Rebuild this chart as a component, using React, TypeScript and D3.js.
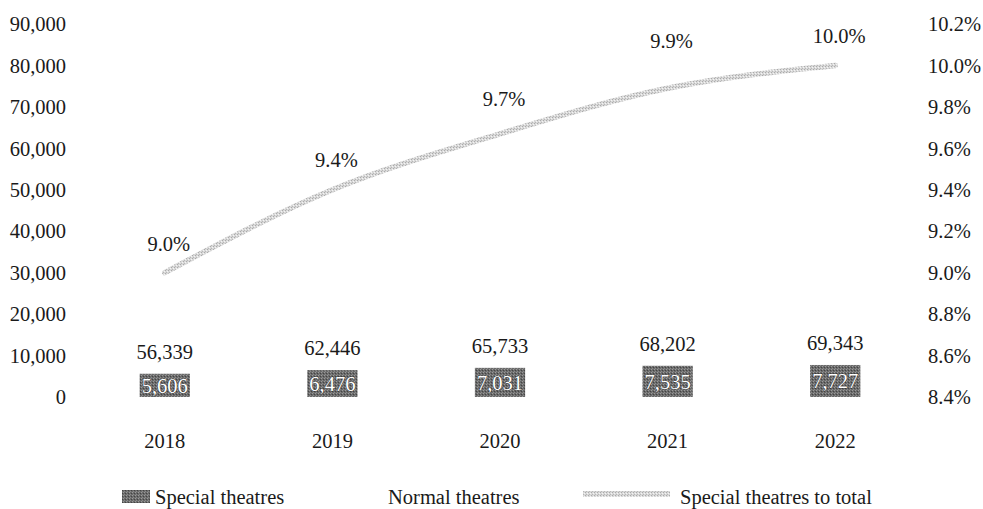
import React from "react";
import * as d3 from "d3";

const years = ["2018", "2019", "2020", "2021", "2022"];
const specialTheatres = [5606, 6476, 7031, 7535, 7727];
const normalTheatres = [56339, 62446, 65733, 68202, 69343];
const shareToTotal = [9.0, 9.4, 9.67, 9.89, 10.0];
const leftTicks = [0, 10000, 20000, 30000, 40000, 50000, 60000, 70000, 80000, 90000];
const rightTicks = [8.4, 8.6, 8.8, 9.0, 9.2, 9.4, 9.6, 9.8, 10.0, 10.2];

const W = 983;
const H = 509;
const FONT = "'Liberation Serif', 'Times New Roman', serif";
const FS = 20.5;
const pctLabelOffset = [29, 30, 35, 47, 30];

export default function App() {
  const x = d3.scaleBand<string>().domain(years).range([81, 919]).paddingInner(0.7).paddingOuter(0.35);
  const yL = d3.scaleLinear().domain([0, 90000]).range([397, 24]);
  const yR = d3.scaleLinear().domain([8.4, 10.2]).range([397, 24]);
  const cx = (y: string) => (x(y) as number) + x.bandwidth() / 2;
  const fmt = d3.format(",");
  const line = d3
    .line<number>()
    .x((_, i) => cx(years[i]))
    .y((d) => yR(d))
    .curve(d3.curveMonotoneX);

  return (
    <svg width={W} height={H} style={{ position: "absolute", left: 0, top: 0, background: "#fff" }}>
      <defs>
        <pattern id="barPat" width="3" height="3" patternUnits="userSpaceOnUse">
          <rect width="3" height="3" fill="#6a6a6a" />
          <rect x="0" y="0" width="1" height="1" fill="#9a9a9a" />
          <rect x="2" y="1" width="1" height="1" fill="#444" />
          <rect x="1" y="2" width="1" height="1" fill="#8a8a8a" />
        </pattern>
        <pattern id="linePat" width="3" height="3" patternUnits="userSpaceOnUse">
          <rect width="3" height="3" fill="#d8d8d8" />
          <rect x="0" y="0" width="1" height="1" fill="#ababab" />
          <rect x="2" y="1" width="1" height="1" fill="#f4f4f4" />
          <rect x="1" y="2" width="1" height="1" fill="#b8b8b8" />
        </pattern>
      </defs>

      {/* left axis */}
      {leftTicks.map((t) => (
        <text key={"l" + t} x={66} y={yL(t)} dy="0.35em" textAnchor="end" fontFamily={FONT} fontSize={FS} fill="#1a1a1a">
          {fmt(t)}
        </text>
      ))}
      {/* right axis */}
      {rightTicks.map((t) => (
        <text key={"r" + t} x={928} y={yR(t)} dy="0.35em" textAnchor="start" fontFamily={FONT} fontSize={FS} fill="#1a1a1a">
          {t.toFixed(1)}%
        </text>
      ))}

      {/* special theatres bars */}
      {years.map((y, i) => (
        <rect
          key={"b" + y}
          x={x(y)}
          y={yL(specialTheatres[i])}
          width={x.bandwidth()}
          height={yL(0) - yL(specialTheatres[i])}
          fill="url(#barPat)"
        />
      ))}
      {/* normal theatres (no fill, stacked) */}
      {years.map((y, i) => (
        <rect
          key={"n" + y}
          x={x(y)}
          y={yL(specialTheatres[i] + normalTheatres[i])}
          width={x.bandwidth()}
          height={yL(specialTheatres[i]) - yL(specialTheatres[i] + normalTheatres[i])}
          fill="none"
        />
      ))}
      {years.map((y, i) => (
        <text
          key={"bl" + y}
          x={cx(y)}
          y={(yL(specialTheatres[i]) + yL(0)) / 2}
          dy="0.35em"
          textAnchor="middle"
          fontFamily={FONT}
          fontSize={FS}
          fill="#fff"
          stroke="#222"
          strokeWidth={0.7}
          paintOrder="stroke"
        >
          {fmt(specialTheatres[i])}
        </text>
      ))}
      {years.map((y, i) => (
        <text
          key={"nl" + y}
          x={cx(y)}
          y={yL(specialTheatres[i]) - 22}
          dy="0.35em"
          textAnchor="middle"
          fontFamily={FONT}
          fontSize={FS}
          fill="#1a1a1a"
        >
          {fmt(normalTheatres[i])}
        </text>
      ))}

      {/* line */}
      <path d={line(shareToTotal) || ""} fill="none" stroke="url(#linePat)" strokeWidth={5.5} strokeLinecap="round" />
      {years.map((y, i) => (
        <text
          key={"pl" + y}
          x={cx(y) + 4}
          y={yR(shareToTotal[i]) - pctLabelOffset[i]}
          dy="0.35em"
          textAnchor="middle"
          fontFamily={FONT}
          fontSize={FS}
          fill="#1a1a1a"
        >
          {shareToTotal[i].toFixed(1)}%
        </text>
      ))}

      {/* x axis labels */}
      {years.map((y) => (
        <text key={"x" + y} x={cx(y)} y={441} dy="0.35em" textAnchor="middle" fontFamily={FONT} fontSize={FS} fill="#1a1a1a">
          {y}
        </text>
      ))}

      {/* legend */}
      <rect x={122} y={490} width={28} height={13} fill="url(#barPat)" />
      <text x={155} y={497} dy="0.35em" fontFamily={FONT} fontSize={FS} fill="#1a1a1a">Special theatres</text>
      <text x={388} y={497} dy="0.35em" fontFamily={FONT} fontSize={FS} fill="#1a1a1a">Normal theatres</text>
      <line x1={583} x2={670} y1={494} y2={494} stroke="url(#linePat)" strokeWidth={6} />
      <text x={680} y={497} dy="0.35em" fontFamily={FONT} fontSize={FS} fill="#1a1a1a">Special theatres to total</text>
    </svg>
  );
}
